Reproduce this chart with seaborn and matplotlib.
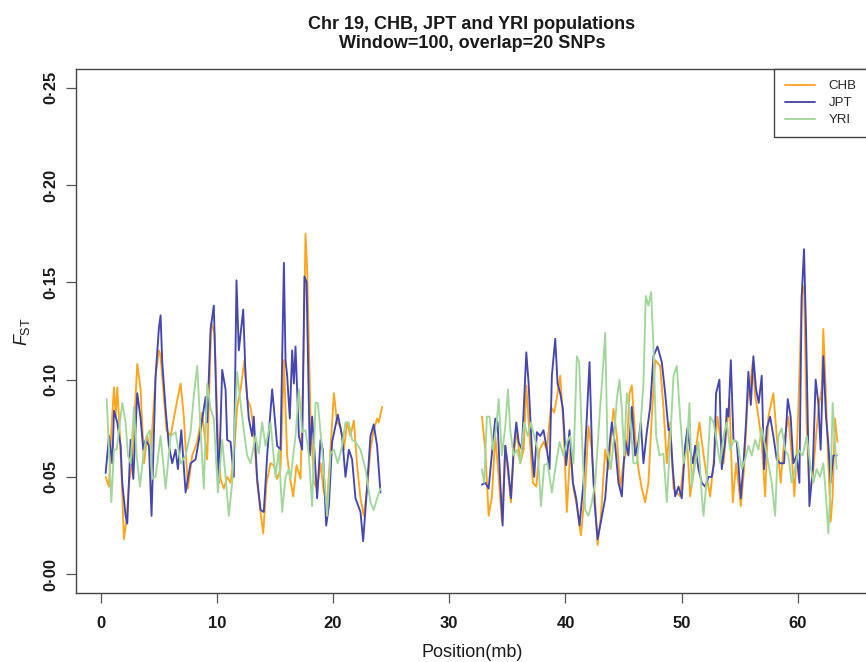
import matplotlib
matplotlib.use("Agg")
import matplotlib.pyplot as plt
import seaborn as sns
import pandas as pd
from matplotlib.lines import Line2D

sns.set_style("white")
plt.rcParams["font.family"] = ["Liberation Sans", "DejaVu Sans"]
plt.rcParams["mathtext.fontset"] = "custom"
plt.rcParams["mathtext.rm"] = "Liberation Sans"
plt.rcParams["mathtext.it"] = "Liberation Sans:italic"

populations = ["CHB", "JPT", "YRI"]
colors = ["#ffa51e", "#4646b0", "#a2d69b"]
x_ticks = [0, 10, 20, 30, 40, 50, 60]
y_ticks = [0.00, 0.05, 0.10, 0.15, 0.20, 0.25]
y_tick_labels = ["0\u00b700", "0\u00b705", "0\u00b710", "0\u00b715", "0\u00b720", "0\u00b725"]

# ---- CHB ----
chb_pos_1 = [0.43, 0.72, 0.92, 1.15, 1.29, 1.43, 1.66, 1.86, 2.00, 2.23, 2.44, 2.72, 3.15, 3.44, 3.73,
             4.01, 4.30, 4.73, 5.02, 5.16, 5.39, 5.67, 6.02, 6.45, 6.88, 7.16, 7.51, 7.88, 8.31, 8.74,
             9.17, 9.52, 9.80, 10.09, 10.32, 10.60, 10.89, 11.18, 11.46, 11.75, 12.04, 12.38, 12.61,
             12.90, 13.18, 13.47, 13.76, 13.99, 14.27, 14.62, 14.90, 15.19, 15.48, 15.77, 16.05, 16.28,
             16.57, 16.86, 17.20, 17.43, 17.63, 17.77, 18.06, 18.35, 18.63, 18.92, 19.21, 19.49, 19.78,
             20.07, 20.35, 20.64, 20.93, 21.21, 21.50, 21.79, 22.07, 22.36, 22.65, 22.93, 23.22, 23.50,
             23.79, 23.93, 24.22]
chb_fst_1 = [0.050, 0.045, 0.074, 0.096, 0.081, 0.096, 0.071, 0.042, 0.018, 0.028, 0.047, 0.057, 0.108,
             0.095, 0.057, 0.071, 0.061, 0.102, 0.115, 0.112, 0.095, 0.074, 0.071, 0.085, 0.098, 0.081,
             0.044, 0.061, 0.068, 0.083, 0.059, 0.129, 0.124, 0.071, 0.049, 0.044, 0.050, 0.047, 0.061,
             0.086, 0.095, 0.110, 0.090, 0.086, 0.074, 0.047, 0.032, 0.021, 0.047, 0.057, 0.056, 0.049,
             0.054, 0.110, 0.061, 0.050, 0.040, 0.056, 0.049, 0.102, 0.175, 0.157, 0.081, 0.047, 0.044,
             0.057, 0.042, 0.037, 0.064, 0.093, 0.078, 0.076, 0.064, 0.078, 0.071, 0.079, 0.056, 0.039,
             0.030, 0.044, 0.064, 0.074, 0.080, 0.078, 0.086]
chb_pos_2 = [32.81, 33.10, 33.39, 33.67, 33.96, 34.25, 34.53, 34.82, 35.02, 35.31, 35.54, 35.82, 36.11,
             36.40, 36.63, 36.91, 37.20, 37.49, 37.77, 38.11, 38.40, 38.75, 39.03, 39.32, 39.55, 39.83,
             40.12, 40.41, 40.69, 40.98, 41.33, 41.70, 41.98, 42.27, 42.56, 42.76, 43.05, 43.42, 43.70,
             44.13, 44.42, 44.71, 44.99, 45.28, 45.51, 45.71, 46.00, 46.28, 46.57, 46.86, 47.14, 47.43,
             47.72, 48.15, 48.44, 48.72, 49.01, 49.30, 49.58, 49.87, 50.16, 50.44, 50.73, 51.02, 51.30,
             51.53, 51.82, 52.16, 52.45, 52.74, 53.08, 53.31, 53.60, 53.88, 54.11, 54.40, 54.68, 55.09,
             55.37, 55.66, 55.89, 56.12, 56.32, 56.60, 56.89, 57.18, 57.46, 57.89, 58.18, 58.52, 58.81,
             59.18, 59.47, 59.70, 59.96, 60.13, 60.33, 60.53, 60.76, 60.99, 61.28, 61.62, 61.85, 62.05,
             62.19, 62.39, 62.62, 62.82, 62.99, 63.19, 63.40]
chb_fst_2 = [0.081, 0.064, 0.030, 0.040, 0.071, 0.050, 0.027, 0.066, 0.054, 0.037, 0.061, 0.074, 0.057,
             0.064, 0.097, 0.071, 0.047, 0.045, 0.064, 0.068, 0.064, 0.086, 0.083, 0.093, 0.102, 0.076,
             0.032, 0.064, 0.044, 0.035, 0.020, 0.044, 0.076, 0.064, 0.037, 0.015, 0.030, 0.064, 0.054,
             0.085, 0.071, 0.044, 0.057, 0.064, 0.093, 0.097, 0.071, 0.054, 0.044, 0.037, 0.047, 0.081,
             0.110, 0.107, 0.085, 0.057, 0.078, 0.044, 0.042, 0.040, 0.057, 0.071, 0.040, 0.054, 0.068,
             0.078, 0.064, 0.050, 0.040, 0.057, 0.081, 0.071, 0.057, 0.076, 0.090, 0.037, 0.057, 0.035,
             0.054, 0.088, 0.097, 0.109, 0.092, 0.081, 0.068, 0.040, 0.081, 0.093, 0.071, 0.047, 0.068,
             0.081, 0.061, 0.040, 0.071, 0.102, 0.143, 0.148, 0.075, 0.042, 0.050, 0.075, 0.088, 0.095,
             0.126, 0.095, 0.057, 0.027, 0.040, 0.080, 0.068]

# ---- JPT ----
jpt_pos_1 = [0.43, 0.72, 1.00, 1.15, 1.43, 1.72, 1.86, 2.15, 2.29, 2.58, 2.81, 3.15, 3.44, 3.67, 3.87,
             4.16, 4.38, 4.73, 5.02, 5.16, 5.30, 5.59, 5.87, 6.16, 6.45, 6.65, 6.94, 7.31, 7.74, 8.17,
             8.60, 9.03, 9.17, 9.46, 9.74, 10.03, 10.17, 10.46, 10.75, 10.89, 11.18, 11.46, 11.69, 11.89,
             12.27, 12.47, 12.75, 13.04, 13.18, 13.47, 13.76, 14.04, 14.33, 14.76, 14.90, 15.19, 15.48,
             15.77, 15.91, 16.05, 16.28, 16.48, 16.63, 16.77, 17.06, 17.34, 17.54, 17.72, 18.00, 18.20,
             18.35, 18.63, 18.92, 19.12, 19.41, 19.64, 19.92, 20.41, 20.78, 21.07, 21.36, 21.64, 21.93,
             22.36, 22.59, 22.93, 23.22, 23.50, 23.79, 24.08]
jpt_fst_1 = [0.052, 0.071, 0.057, 0.084, 0.078, 0.066, 0.047, 0.030, 0.026, 0.069, 0.049, 0.093, 0.080,
             0.064, 0.069, 0.066, 0.030, 0.102, 0.127, 0.133, 0.109, 0.085, 0.066, 0.057, 0.064, 0.054,
             0.074, 0.042, 0.057, 0.059, 0.074, 0.091, 0.078, 0.126, 0.138, 0.071, 0.047, 0.105, 0.095,
             0.069, 0.068, 0.050, 0.151, 0.115, 0.136, 0.102, 0.080, 0.071, 0.081, 0.049, 0.033, 0.032,
             0.061, 0.095, 0.086, 0.066, 0.064, 0.160, 0.110, 0.102, 0.080, 0.115, 0.098, 0.117, 0.071,
             0.064, 0.153, 0.150, 0.061, 0.081, 0.068, 0.039, 0.069, 0.064, 0.025, 0.035, 0.068, 0.082,
             0.071, 0.050, 0.064, 0.059, 0.039, 0.032, 0.017, 0.045, 0.071, 0.077, 0.066, 0.042]
jpt_pos_2 = [32.81, 33.10, 33.39, 33.67, 33.96, 34.16, 34.39, 34.59, 34.82, 35.02, 35.31, 35.54, 35.77,
             35.97, 36.25, 36.63, 36.83, 37.11, 37.31, 37.54, 37.83, 38.11, 38.40, 38.63, 38.83, 39.12,
             39.32, 39.55, 39.78, 40.06, 40.35, 40.64, 40.92, 41.21, 41.55, 41.84, 42.07, 42.30, 42.50,
             42.76, 43.05, 43.42, 43.70, 43.99, 44.28, 44.56, 44.85, 45.14, 45.42, 45.71, 46.00, 46.28,
             46.48, 46.71, 47.00, 47.29, 47.57, 47.92, 48.29, 48.58, 48.87, 49.01, 49.24, 49.44, 49.73,
             50.01, 50.30, 50.50, 50.73, 50.96, 51.16, 51.45, 51.73, 52.02, 52.31, 52.59, 52.79, 52.96,
             53.25, 53.45, 53.74, 53.88, 54.03, 54.23, 54.46, 54.74, 55.09, 55.32, 55.54, 55.74, 55.95,
             56.17, 56.40, 56.63, 56.89, 57.09, 57.32, 57.61, 57.89, 58.18, 58.47, 58.81, 59.13, 59.38,
             59.61, 59.90, 60.13, 60.33, 60.53, 60.70, 60.99, 61.28, 61.53, 61.76, 61.96, 62.19, 62.42,
             62.62, 62.82, 63.05, 63.34]
jpt_fst_2 = [0.046, 0.047, 0.044, 0.062, 0.080, 0.078, 0.047, 0.025, 0.066, 0.057, 0.039, 0.064, 0.078,
             0.068, 0.064, 0.114, 0.098, 0.064, 0.050, 0.073, 0.071, 0.074, 0.064, 0.054, 0.102, 0.121,
             0.098, 0.093, 0.085, 0.056, 0.074, 0.047, 0.039, 0.025, 0.047, 0.081, 0.109, 0.061, 0.037,
             0.018, 0.027, 0.039, 0.061, 0.078, 0.066, 0.047, 0.040, 0.069, 0.061, 0.086, 0.061, 0.068,
             0.078, 0.057, 0.073, 0.086, 0.112, 0.117, 0.109, 0.093, 0.074, 0.075, 0.054, 0.040, 0.045,
             0.039, 0.066, 0.075, 0.064, 0.057, 0.066, 0.054, 0.047, 0.045, 0.050, 0.050, 0.057, 0.093,
             0.100, 0.054, 0.068, 0.085, 0.081, 0.110, 0.069, 0.068, 0.039, 0.057, 0.078, 0.104, 0.087,
             0.112, 0.095, 0.088, 0.102, 0.054, 0.075, 0.081, 0.071, 0.059, 0.057, 0.057, 0.090, 0.081,
             0.057, 0.061, 0.047, 0.143, 0.167, 0.126, 0.035, 0.054, 0.100, 0.088, 0.064, 0.112, 0.081,
             0.067, 0.047, 0.061, 0.061]

# ---- YRI ----
yri_pos_1 = [0.52, 0.72, 0.92, 1.15, 1.38, 1.86, 2.15, 2.35, 2.58, 2.87, 3.10, 3.38, 3.67, 3.95, 4.24,
             4.44, 4.73, 5.16, 5.59, 6.02, 6.45, 6.88, 7.31, 7.74, 8.02, 8.31, 8.60, 8.88, 9.17, 9.46,
             9.74, 10.09, 10.46, 10.75, 11.03, 11.32, 11.75, 12.04, 12.32, 12.61, 12.90, 13.33, 13.61,
             13.90, 14.19, 14.62, 15.05, 15.33, 15.62, 15.91, 16.19, 16.34, 16.77, 17.06, 17.34, 17.63,
             17.92, 18.20, 18.49, 18.69, 19.06, 19.49, 19.78, 20.07, 20.41, 20.78, 21.07, 21.36, 21.64,
             21.93, 22.36, 22.79, 23.22, 23.50, 23.79, 24.08]
yri_fst_1 = [0.090, 0.064, 0.037, 0.064, 0.064, 0.088, 0.078, 0.061, 0.057, 0.086, 0.061, 0.045, 0.061,
             0.071, 0.074, 0.049, 0.050, 0.071, 0.044, 0.071, 0.073, 0.057, 0.061, 0.073, 0.092, 0.107,
             0.074, 0.044, 0.098, 0.085, 0.080, 0.042, 0.069, 0.050, 0.030, 0.047, 0.104, 0.088, 0.074,
             0.061, 0.057, 0.071, 0.062, 0.078, 0.066, 0.078, 0.050, 0.064, 0.032, 0.050, 0.054, 0.049,
             0.071, 0.095, 0.073, 0.074, 0.061, 0.035, 0.088, 0.088, 0.064, 0.030, 0.062, 0.064, 0.057,
             0.066, 0.078, 0.078, 0.069, 0.068, 0.064, 0.054, 0.037, 0.033, 0.039, 0.044]
yri_pos_2 = [32.81, 33.01, 33.24, 33.47, 33.76, 34.05, 34.25, 34.53, 34.82, 35.05, 35.25, 35.54, 35.82,
             36.11, 36.45, 36.74, 37.03, 37.31, 37.60, 37.89, 38.17, 38.46, 38.83, 39.12, 39.49, 39.83,
             40.12, 40.41, 40.69, 40.98, 41.18, 41.41, 41.70, 41.98, 42.27, 42.56, 42.93, 43.22, 43.42,
             43.62, 43.91, 44.19, 44.42, 44.65, 44.85, 45.05, 45.28, 45.51, 45.85, 46.14, 46.43, 46.71,
             46.91, 47.14, 47.37, 47.57, 47.80, 48.09, 48.43, 48.72, 49.01, 49.30, 49.58, 49.87, 50.16,
             50.44, 50.67, 50.87, 51.16, 51.45, 51.73, 51.88, 52.16, 52.45, 52.74, 53.02, 53.31, 53.60,
             53.88, 54.17, 54.51, 54.80, 55.17, 55.46, 55.74, 56.03, 56.32, 56.60, 56.89, 57.18, 57.46,
             57.75, 58.04, 58.32, 58.61, 58.90, 59.18, 59.47, 59.76, 60.04, 60.41, 60.76, 61.05, 61.33,
             61.62, 61.90, 62.19, 62.42, 62.62, 62.82, 62.99, 63.19, 63.34]
yri_fst_2 = [0.054, 0.047, 0.081, 0.081, 0.064, 0.076, 0.090, 0.061, 0.076, 0.095, 0.074, 0.061, 0.064,
             0.057, 0.078, 0.071, 0.078, 0.071, 0.064, 0.035, 0.056, 0.057, 0.042, 0.054, 0.068, 0.061,
             0.068, 0.071, 0.057, 0.112, 0.109, 0.071, 0.033, 0.030, 0.037, 0.047, 0.081, 0.105, 0.124,
             0.064, 0.054, 0.071, 0.090, 0.100, 0.085, 0.061, 0.093, 0.085, 0.057, 0.057, 0.074, 0.098,
             0.143, 0.138, 0.145, 0.117, 0.071, 0.061, 0.062, 0.037, 0.068, 0.102, 0.107, 0.081, 0.057,
             0.064, 0.088, 0.045, 0.057, 0.068, 0.040, 0.030, 0.049, 0.081, 0.078, 0.068, 0.057, 0.071,
             0.078, 0.064, 0.069, 0.068, 0.054, 0.059, 0.066, 0.061, 0.069, 0.064, 0.075, 0.066, 0.057,
             0.047, 0.030, 0.071, 0.075, 0.064, 0.061, 0.047, 0.054, 0.064, 0.061, 0.071, 0.057, 0.047,
             0.054, 0.050, 0.057, 0.040, 0.021, 0.047, 0.088, 0.068, 0.054]

series = [
    ("CHB", "seg1", chb_pos_1, chb_fst_1), ("CHB", "seg2", chb_pos_2, chb_fst_2),
    ("JPT", "seg1", jpt_pos_1, jpt_fst_1), ("JPT", "seg2", jpt_pos_2, jpt_fst_2),
    ("YRI", "seg1", yri_pos_1, yri_fst_1), ("YRI", "seg2", yri_pos_2, yri_fst_2),
]
df = pd.concat([pd.DataFrame({"pop": p, "seg": s, "pos": x, "fst": y}) for p, s, x, y in series],
               ignore_index=True)

W, H = 866, 662
fig = plt.figure(figsize=(W / 100, H / 100), dpi=100)
left, right, bottom, top = 76, 867.6, 593.3, 69
ax = fig.add_axes([left / W, 1 - bottom / H, (right - left) / W, (bottom - top) / H])

palette = dict(zip(populations, colors))
sns.lineplot(data=df, x="pos", y="fst", hue="pop", units="seg", estimator=None,
             hue_order=populations, palette=palette, linewidth=1.35, legend=False,
             sort=False, ax=ax)

ax.set_xlim(-2.12, 66.0)
ax.set_ylim(-0.0098, 0.2596)
ax.set_xticks(x_ticks)
ax.set_xticklabels([str(t) for t in x_ticks], fontsize=12, fontweight="bold")
ax.set_yticks(y_ticks)
ax.set_yticklabels(y_tick_labels, fontsize=12, fontweight="bold", rotation=90, va="center")
ax.tick_params(axis="x", bottom=True, direction="out", length=7.5, width=0.9, color="#555555", pad=9,
               labelcolor="#1a1a1a")
ax.tick_params(axis="y", left=True, direction="out", length=7, width=0.9, color="#555555", pad=6,
               labelcolor="#1a1a1a")
for sp in ax.spines.values():
    sp.set_visible(True)
    sp.set_color("#444444")
    sp.set_linewidth(1.0)

ax.set_xlabel("Position(mb)", fontsize=13, labelpad=9, color="#1a1a1a")
ax.set_ylabel(r"$F_{\mathrm{ST}}$", fontsize=13, labelpad=8, color="#1a1a1a")
ax.set_title("Chr 19, CHB, JPT and YRI populations\nWindow=100, overlap=20 SNPs",
             fontsize=13, fontweight="bold", pad=15, linespacing=1.15, color="#1a1a1a")

handles = [Line2D([], [], color=c, linewidth=1.35) for c in colors]
leg = ax.legend(handles, populations, loc="upper right", bbox_to_anchor=(1, 1), borderaxespad=0,
                fontsize=9.5, handlelength=2.3, handletextpad=1.0, borderpad=0.85, labelspacing=0.35,
                frameon=True, fancybox=False, edgecolor="#444444", framealpha=1)
leg.get_frame().set_linewidth(1.0)

fig.savefig("out.png", dpi=100)
